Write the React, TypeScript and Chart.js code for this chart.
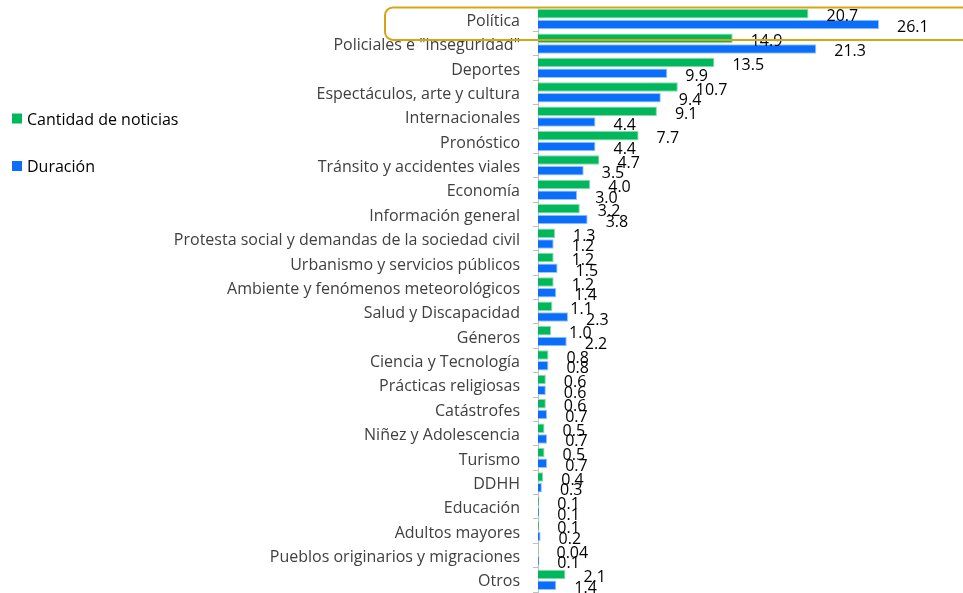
import React, { useEffect, useRef } from "react";
import { Chart, registerables } from "chart.js";

Chart.register(...registerables);

const categories = [
  "Política",
  'Policiales e "inseguridad"',
  "Deportes",
  "Espectáculos, arte y cultura",
  "Internacionales",
  "Pronóstico",
  "Tránsito y accidentes viales",
  "Economía",
  "Información general",
  "Protesta social y demandas de la sociedad civil",
  "Urbanismo y servicios públicos",
  "Ambiente y fenómenos meteorológicos",
  "Salud y Discapacidad",
  "Géneros",
  "Ciencia y Tecnología",
  "Prácticas religiosas",
  "Catástrofes",
  "Niñez y Adolescencia",
  "Turismo",
  "DDHH",
  "Educación",
  "Adultos mayores",
  "Pueblos originarios y migraciones",
  "Otros",
];

const cantidadNoticias = [
  20.7, 14.9, 13.5, 10.7, 9.1, 7.7, 4.7, 4.0, 3.2, 1.3, 1.2, 1.2, 1.1, 1.0, 0.8, 0.6, 0.6, 0.5, 0.5, 0.4, 0.1, 0.1, 0.04, 2.1,
];
const duracion = [
  26.1, 21.3, 9.9, 9.4, 4.4, 4.4, 3.5, 3.0, 3.8, 1.2, 1.5, 1.4, 2.3, 2.2, 0.8, 0.6, 0.7, 0.7, 0.7, 0.3, 0.1, 0.2, 0.1, 1.4,
];

const seriesNames = ["Cantidad de noticias", "Duración"];
const seriesColors = ["#00B75C", "#0A6EFB"];
const seriesBorders = ["#8ad9ae", "#9cc4fb"];
const highlightCategory = "Política";

const FONT = "'Open Sans', sans-serif";

const fmt = (v: number) => (v < 0.1 ? String(v) : v.toFixed(1));

const labelsPlugin = {
  id: "valueLabels",
  afterDatasetsDraw(chart: any) {
    const ctx = chart.ctx;
    ctx.save();
    ctx.font = `16px ${FONT}`;
    ctx.fillStyle = "#000000";
    ctx.textAlign = "left";
    ctx.textBaseline = "middle";
    chart.data.datasets.forEach((ds: any, di: number) => {
      const meta = chart.getDatasetMeta(di);
      meta.data.forEach((bar: any, i: number) => {
        ctx.fillText(fmt(ds.data[i]), bar.x + 18, bar.y + 3);
      });
    });
    ctx.restore();
  },
};

const decorPlugin = {
  id: "decor",
  afterDraw(chart: any) {
    const ctx = chart.ctx;
    const y = chart.scales.y;
    const idx = categories.indexOf(highlightCategory);
    const c = y.getPixelForValue(idx);
    const band = Math.abs(y.getPixelForValue(1) - y.getPixelForValue(0));
    const left = chart.chartArea.left - 153;
    const top = c - 0.48 * band;
    const bottom = c + 0.85 * band;
    const right = chart.width + 20;
    ctx.save();
    ctx.strokeStyle = "#D6A514";
    ctx.lineWidth = 2;
    ctx.beginPath();
    (ctx as any).roundRect(left, top, right - left, bottom - top, 8);
    ctx.stroke();
    ctx.restore();

    // legend on the left
    ctx.save();
    ctx.font = `16px ${FONT}`;
    ctx.textAlign = "left";
    ctx.textBaseline = "middle";
    const rows = [118.5, 166];
    seriesNames.forEach((n, i) => {
      ctx.fillStyle = seriesColors[i];
      ctx.fillRect(12, rows[i] - 5, 10, 10);
      ctx.fillStyle = "#000000";
      ctx.fillText(n, 27, rows[i] + 1.5);
    });
    ctx.restore();
  },
};

export default function App() {
  const ref = useRef<HTMLCanvasElement | null>(null);
  useEffect(() => {
    if (!ref.current) return;
    const chart = new Chart(ref.current, {
      type: "bar",
      data: {
        labels: categories,
        datasets: [
          {
            label: seriesNames[0],
            data: cantidadNoticias,
            backgroundColor: seriesColors[0],
            borderColor: seriesBorders[0],
            borderWidth: 1,
            categoryPercentage: 0.88,
            barPercentage: 0.88,
          },
          {
            label: seriesNames[1],
            data: duracion,
            backgroundColor: seriesColors[1],
            borderColor: seriesBorders[1],
            borderWidth: 1,
            categoryPercentage: 0.88,
            barPercentage: 0.88,
          },
        ],
      },
      options: {
        indexAxis: "y",
        animation: false,
        responsive: false,
        layout: { padding: { top: 7, bottom: 1, left: 0, right: 33 } },
        plugins: {
          legend: { display: false },
          tooltip: { enabled: false },
        },
        scales: {
          x: { display: false, min: 0, max: 30 },
          y: {
            afterFit(scale: any) {
              scale.width = 538;
              scale.paddingTop = 0;
              scale.paddingBottom = 0;
            },
            grid: {
              drawOnChartArea: false,
              offset: true,
              tickLength: 5,
              color: "#BFBFBF",
            },
            border: { display: true, color: "#BFBFBF", width: 1 },
            ticks: {
              padding: 13,
              labelOffset: 2,
              color: "#404040",
              font: { family: FONT, size: 16 },
              autoSkip: false,
            },
          },
        },
      },
      plugins: [labelsPlugin, decorPlugin],
    });
    return () => chart.destroy();
  }, []);
  return (
    <div style={{ position: "fixed", left: 0, top: 0, width: 963, height: 593, background: "#fff" }}>
      <canvas ref={ref} width={963} height={593} style={{ width: 963, height: 593 }} />
    </div>
  );
}
